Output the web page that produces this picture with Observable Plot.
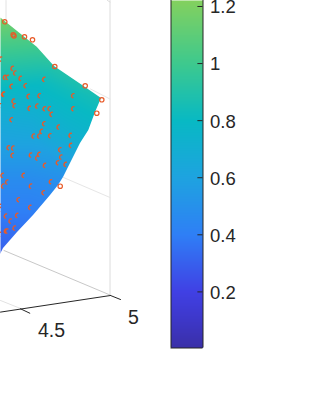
<!DOCTYPE html>
<html><head><meta charset="utf-8">
<script src="https://cdn.jsdelivr.net/npm/d3@7"></script>
<script src="https://cdn.jsdelivr.net/npm/@observablehq/plot@0.6"></script>
<style>html,body{margin:0;padding:0;background:#fff;overflow:hidden}#c{position:relative;width:315px;height:420px}#c svg{position:absolute;left:0;top:0;background:transparent}</style>
</head><body><div id="c"></div>
<script>
// colour map stops (value -> colour)
const cmapValues = [0, 0.1, 0.2, 0.4, 0.6, 0.8, 1.0, 1.2, 1.3];
const cmapColors = ["#3a2fa6","#3d37c8","#4040e4","#2f7ff6","#1ea3e0","#08b9c4","#3ec98e","#7dd063","#9dd44e"];
// surface samples, in projected picture coordinates
const surfX = [-20, 30, 70, 120, -20, 40, 100, 130, -20, 30, 80, 120, -20, 30, 70, -20, 30, -20, 30];
const surfY = [10, 10, 50, 60, 60, 80, 100, 100, 120, 130, 140, 140, 180, 180, 180, 250, 230, 300, 300];
const surfZ = [1.25, 1.2, 1.0, 0.95, 0.95, 0.82, 0.85, 0.85, 0.66, 0.65, 0.72, 0.75, 0.47, 0.47, 0.5, 0.3, 0.36, 0.2, 0.2];
// right-hand boundary of the surface
const edgeX = [0, 0, 36.7, 54, 85, 101, 95, 88.3, 80, 63, 58, 50, 33, 17, 3, 0, 0];
const edgeY = [15, 17.3, 46.7, 66, 87, 98, 112, 130, 143, 177, 185, 195, 215, 232, 248, 254, 256];
// open markers above the surface
const openX = [4.3, 12.7, 13.5, 24, 32, 54.3, 84.7, 101.3, 96.3, 59.7];
const openY = [21.3, 34.3, 35.5, 36.3, 39.3, 66, 85.3, 99.3, 112.7, 185.7];
// markers mostly hidden by the surface (only upper-left arc shows)
const arcX = [1,12.7,15.3,5,7.7,20.7,44.3,11.7,25.7,3.3,4,28.7,39.7,73.3,13.7,14.7,0,29.7,37.3,44.7,49.7,51.7,73.3,11.7,44.3,58.7,41.7,33.7,39.3,50.3,70.7,71,8.7,13.3,60.3,12.7,31,39.3,61.3,37.3,58,65.7,45,2.7,23.7,7.3,3.3,51,31,43.7,18.7,30.3,0,0,6,17.3,10.7,14.7,6,7.3,0];
const arcY = [58.7,68,72.7,77,77,78,79,86,85.3,94,93.7,96,95.3,95.3,100.7,105.3,105.3,108,105.7,108.3,108.3,114,108.3,119.3,123.3,126.7,131,135.7,135.7,135.3,135,145,147.3,147.7,149.3,155,154.7,154,156.7,157.7,162.3,164,165,175,175,181.7,185.7,181.3,185.7,192.3,199.3,207,206,209,215.7,215,220.7,227.7,230.7,230.7,234];
const gridLines = [
  {x:[109.5,109.5],y:[0,294.5],c:"#dcdcdc"},
  {x:[5.5,5.5],y:[0,20.5],c:"#e2e2e2"},
  {x:[107,109.5],y:[0,1.5],c:"#dcdcdc"},
  {x:[90,109.5],y:[88.5,98.5],c:"#e6e6e6"},
  {x:[63,109.5],y:[177,197],c:"#e6e6e6"},
  {x:[3.5,109.5],y:[250,294.5],c:"#c8c8c8"},
  {x:[0,20],y:[300,308],c:"#e2e2e2"}
];
const axisLine = {x:[0,110],y:[311.6,295]};
const axisTicks = {x:[[20,29.3],[110,120]],y:[[308.3,312.7],[295,299]]};
const axisLabels = ["4.5","5"];
const labelX = [51,133];
const labelY = [330,317];
const cbTicks = [0.2,0.4,0.6,0.8,1,1.2];

const tbl = (a,b) => a.map((v,i)=>({x:v,y:b[i]}));
const surf = surfX.map((v,i)=>({x:v,y:surfY[i],z:surfZ[i]}));
const edge = tbl(edgeX,edgeY);
const arcSym = {draw(ctx,size){const r=Math.sqrt(size/Math.PI);ctx.moveTo(-r*0.2,r*1.05);ctx.arc(0,0,r,Math.PI*0.62,Math.PI*1.6);}};
const ink="#262626";
const main = Plot.plot({
  width:315,height:420,margin:0,
  x:{domain:[0,315],range:[0,315],axis:null},
  y:{domain:[0,420],range:[0,420],axis:null},
  color:{type:"linear",domain:cmapValues,range:cmapColors,interpolate:"rgb"},
  style:{background:"transparent"},
  marks:[
    Plot.raster(surf,{x:"x",y:"y",fill:"z",x1:0,x2:110,y1:17,y2:254,pixelSize:1,interpolate:"barycentric"}),
    Plot.areaX(edge,{y:"y",x1:"x",x2:()=>111,fill:"white",curve:"linear"}),
    ...gridLines.map(g=>Plot.line(tbl(g.x,g.y),{x:"x",y:"y",stroke:g.c,strokeWidth:1})),
    Plot.line(tbl(axisLine.x,axisLine.y),{x:"x",y:"y",stroke:ink,strokeWidth:1}),
    ...axisTicks.x.map((xs,i)=>Plot.line(tbl(xs,axisTicks.y[i]),{x:"x",y:"y",stroke:ink,strokeWidth:1})),
    Plot.text(axisLabels,{x:(d,i)=>labelX[i],y:(d,i)=>labelY[i],text:d=>d,fontSize:19.5,fontFamily:"Liberation Sans",fill:ink}),
    Plot.dot(tbl(arcX,arcY),{x:"x",y:"y",r:2.2,symbol:arcSym,stroke:"#e85a28",strokeWidth:1.3,fill:"none"}),
    Plot.dot(tbl(openX,openY),{x:"x",y:"y",r:2.2,stroke:"#e85a28",strokeWidth:1.2,fill:"none"})
  ]
});
document.getElementById("c").append(main);
const bar = Plot.plot({
  width:315,height:420,marginLeft:170.5,marginRight:112.5,marginTop:0,marginBottom:72.5,
  x:{domain:[0,1],axis:null},
  y:{domain:[0.0034,1.221],axis:null},
  color:{type:"linear",domain:cmapValues,range:cmapColors,interpolate:"rgb"},
  style:{background:"transparent"},
  marks:[
    Plot.raster({fill:(x,y)=>y,x1:0,x2:1,y1:0.0034,y2:1.221,pixelSize:1}),
    Plot.ruleY(cbTicks,{x1:0.84,x2:1,stroke:ink,strokeWidth:1}),
    Plot.ruleX([0,1],{stroke:ink,strokeWidth:1}),
    Plot.ruleY([0.0034],{stroke:ink,strokeWidth:1}),
    Plot.axisY(cbTicks,{anchor:"right",tickSize:0,tickPadding:7,dy:1,fontSize:18.5,fontFamily:"Liberation Sans",fill:ink,label:null,tickFormat:d=>String(d)})
  ]
});
document.getElementById("c").append(bar);
</script></body></html>
